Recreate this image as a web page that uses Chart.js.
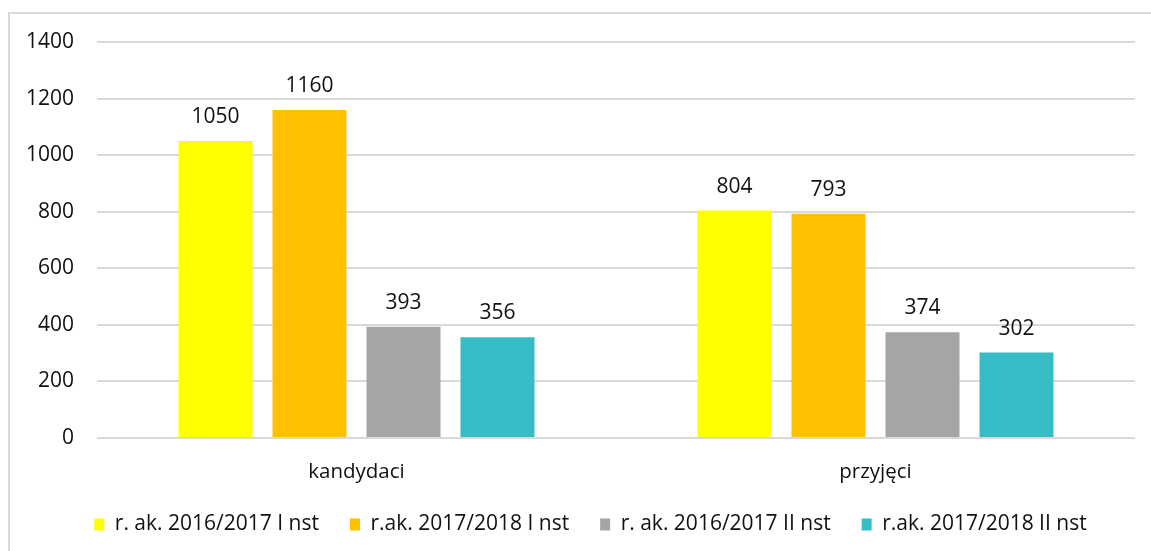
<!DOCTYPE html>
<html>
<head>
<meta charset="utf-8">
<script src="https://cdn.jsdelivr.net/npm/chart.js@4"></script>
<style>
  html, body { margin: 0; padding: 0; background: #ffffff; overflow: hidden; }
  #wrap { width: 1151px; height: 551px; position: relative; }
</style>
</head>
<body>
<div id="wrap"><canvas id="c" width="1151" height="551"></canvas></div>
<script>
const categories = ["kandydaci", "przyjęci"];
const seriesNames = ["r. ak. 2016/2017 I nst", "r.ak. 2017/2018 I nst", "r. ak. 2016/2017 II nst", "r.ak. 2017/2018 II nst"];
const series1 = [1050, 804];
const series2 = [1160, 793];
const series3 = [393, 374];
const series4 = [356, 302];
const seriesColors = ["#FFFF00", "#FFC000", "#A5A5A5", "#37BBC4"];
const yTicks = [0, 200, 400, 600, 800, 1000, 1200, 1400];

const FONT = "'Open Sans', 'DejaVu Sans', sans-serif";
const LEGEND_H = 61;
const XAXIS_H = 45;
const LEGEND_SHIFT = 23;

const borderPlugin = {
  id: 'outerBorder',
  beforeDraw(chart) {
    const ctx = chart.ctx;
    ctx.save();
    ctx.fillStyle = '#ffffff';
    ctx.fillRect(0, 0, chart.width, chart.height);
    ctx.strokeStyle = '#d9d9d9';
    ctx.lineWidth = 2;
    ctx.strokeRect(9, 13, 1300, 700);
    ctx.restore();
  }
};

const labelPlugin = {
  id: 'barValues',
  afterDatasetsDraw(chart) {
    const ctx = chart.ctx;
    ctx.save();
    ctx.font = "21px " + FONT;
    ctx.fillStyle = '#111111';
    ctx.textAlign = 'center';
    ctx.textBaseline = 'alphabetic';
    chart.data.datasets.forEach((ds, di) => {
      const meta = chart.getDatasetMeta(di);
      meta.data.forEach((el, i) => {
        ctx.fillText(String(ds.data[i]), el.x, el.y - 18);
      });
    });
    ctx.restore();
  }
};

const legendFix = {
  id: 'legendFix',
  beforeLayout(chart) {
    const lg = chart.legend;
    if (lg && !lg._fixed) {
      const orig = lg.fit.bind(lg);
      lg.fit = function () { orig(); this.height = LEGEND_H; };
      lg._fixed = true;
    }
  },
  afterLayout(chart) {
    const lg = chart.legend;
    if (lg) { lg.left += LEGEND_SHIFT; lg.right += LEGEND_SHIFT; }
  }
};

const datasets = [series1, series2, series3, series4].map((d, i) => ({
  label: seriesNames[i],
  data: d,
  backgroundColor: seriesColors[i],
  borderWidth: 0,
  categoryPercentage: 0.7245,
  barPercentage: 0.787
}));

new Chart(document.getElementById('c'), {
  type: 'bar',
  data: { labels: categories, datasets: datasets },
  options: {
    responsive: false,
    animation: false,
    devicePixelRatio: 1,
    layout: { padding: { left: 0, right: 16, top: 42, bottom: 7 } },
    plugins: {
      legend: {
        position: 'bottom',
        labels: {
          boxWidth: 10,
          boxHeight: 12,
          padding: 31,
          color: '#111111',
          font: { family: FONT, size: 21 }
        }
      },
      tooltip: { enabled: false }
    },
    scales: {
      x: {
        afterFit(scale) {
          scale.height = XAXIS_H;
          scale._computeLabelArea = () => undefined;
        },
        grid: { display: false, drawTicks: false },
        border: { display: false },
        ticks: { color: '#111111', padding: 22, font: { family: FONT, size: 20.5 } }
      },
      y: {
        min: 0,
        max: 1400,
        afterFit(scale) { scale.width = 97; },
        afterBuildTicks(scale) { scale.ticks = yTicks.map(v => ({ value: v })); },
        grid: { color: '#d9d9d9', lineWidth: 2, drawTicks: false },
        border: { display: false },
        ticks: {
          color: '#111111', padding: 23, font: { family: FONT, size: 21 },
          callback: (v) => String(v)
        }
      }
    }
  },
  plugins: [borderPlugin, labelPlugin, legendFix]
});
</script>
</body>
</html>
